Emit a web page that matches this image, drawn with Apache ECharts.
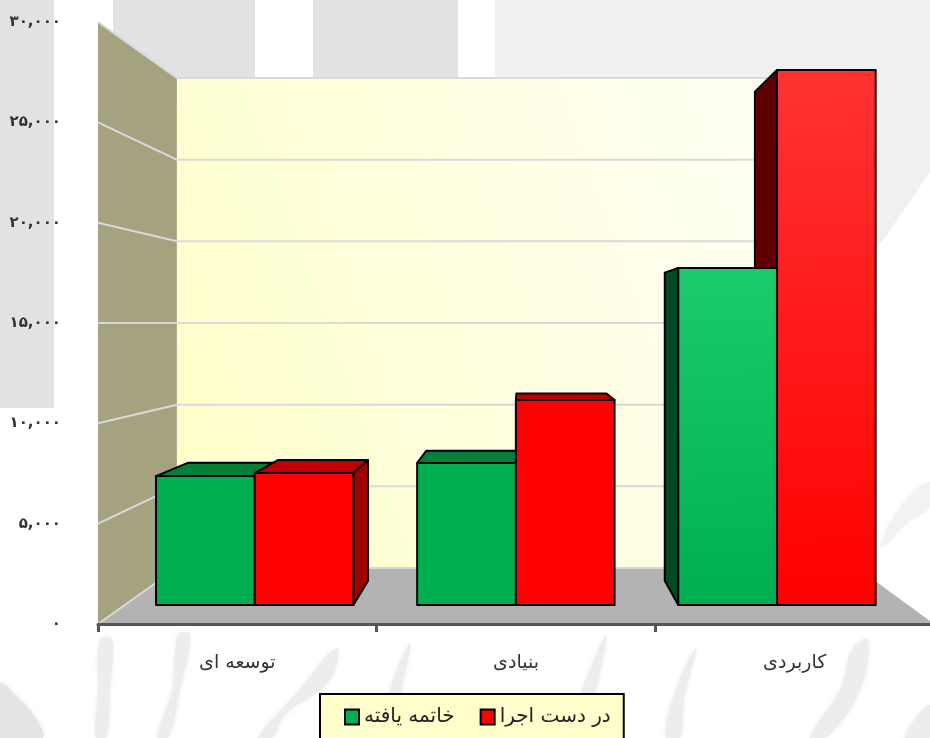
<!DOCTYPE html>
<html>
<head>
<meta charset="utf-8">
<style>
html, body { margin: 0; padding: 0; background: #fff; }
#chart { width: 930px; height: 738px; }
</style>
<script src="https://cdn.jsdelivr.net/npm/echarts@6/dist/echarts.min.js"></script>
</head>
<body>
<div id="chart"></div>
<script>
const categories = ['توسعه ای', 'بنیادی', 'کاربردی']
const finishedName = 'خاتمه یافته'
const runningName = 'در دست اجرا'
const finishedValues = [6860, 7560, 17930]
const runningValues = [7020, 10900, 28460]
const yTicks = [0, 5000, 10000, 15000, 20000, 25000, 30000]
const yTickLabels = ['۰', '۵,۰۰۰', '۱۰,۰۰۰', '۱۵,۰۰۰', '۲۰,۰۰۰', '۲۵,۰۰۰', '۳۰,۰۰۰']

const FONT = '"DejaVu Sans", sans-serif'

// fake 3d: everything is read on the front plane and pulled towards one vanishing point
const VP = [522, 323]
const S_WALL = 0.814
const S_BAR_FRONT = 0.937
const S_BAR_BACK = 0.856
const BAR_GAP = 0.12
const BAR_WIDTH = 0.378
const FADE_ABOVE = 15000

const project = (p, s) => [VP[0] + s * (p[0] - VP[0]), VP[1] + s * (p[1] - VP[1])]

const greenFaces = { front: '#00B050', frontLight: '#1CCC6A', top: '#008038', left: '#004A24', right: '#004A24' }
const redFaces = { front: '#FF0000', frontLight: '#FF3333', top: '#C00000', left: '#600000', right: '#A00000' }

function renderBar(faces, index) {
    return function (params, api) {
        let cat = api.value(0)
        let val = api.value(1)
        let band = api.size([1, 0])[0]
        let base = api.coord([cat, 0])
        let topY = api.coord([cat, val])[1]
        let L = base[0] - band / 2 + band * (BAR_GAP + BAR_WIDTH * index)
        let R = L + band * BAR_WIDTH

        let fTL = project([L, topY], S_BAR_FRONT)
        let fTR = project([R, topY], S_BAR_FRONT)
        let fBL = project([L, base[1]], S_BAR_FRONT)
        let fBR = project([R, base[1]], S_BAR_FRONT)
        let bTL = project([L, topY], S_BAR_BACK)
        let bTR = project([R, topY], S_BAR_BACK)
        let bBL = project([L, base[1]], S_BAR_BACK)
        let bBR = project([R, base[1]], S_BAR_BACK)

        // nearer to the vanishing point is drawn later so it hides the neighbour's side
        let z2 = 1000 - Math.abs((fTL[0] + fTR[0]) / 2 - VP[0])
        let edge = { stroke: '#000', lineWidth: 2, lineJoin: 'round' }
        let face = (points, fill) => ({
            type: 'polygon', z2, shape: { points }, style: Object.assign({ fill }, edge)
        })

        let children = []
        if (fTL[1] > VP[1]) children.push(face([fTL, fTR, bTR, bTL], faces.top))
        if (fTL[0] > VP[0]) children.push(face([fTL, bTL, bBL, fBL], faces.left))
        if (fTR[0] < VP[0]) children.push(face([fTR, bTR, bBR, fBR], faces.right))

        let fill = faces.front
        if (val > FADE_ABOVE) {
            fill = new echarts.graphic.LinearGradient(0, 0, 0.12, 1, [
                { offset: 0, color: faces.frontLight },
                { offset: 1, color: faces.front }
            ])
        }
        children.push(face([fTL, fTR, fBR, fBL], fill))
        return { type: 'group', children }
    }
}

function renderChamber(params, api) {
    let grid = params.coordSys
    let left = grid.x
    let right = grid.x + grid.width
    let y = api.coord([0, api.value(0)])[1]
    let floorY = grid.y + grid.height
    let line = { stroke: '#D9D9D9', lineWidth: 2 }
    let children = []

    if (params.dataIndex === 0) {
        let wTL = project([left, grid.y], S_WALL)
        let wTR = project([right, grid.y], S_WALL)
        let wBL = project([left, floorY], S_WALL)
        let wBR = project([right, floorY], S_WALL)
        children.push({
            type: 'polygon', shape: { points: [wTL, wTR, wBR, wBL] },
            style: {
                fill: new echarts.graphic.LinearGradient(0, 0.75, 1, 0.25, [
                    { offset: 0, color: '#FFFFCC' },
                    { offset: 1, color: '#FFFFF8' }
                ])
            }
        })
        children.push({
            type: 'polygon', shape: { points: [[left, grid.y], wTL, wBL, [left, floorY]] },
            style: { fill: '#A5A27F' }
        })
        children.push({
            type: 'polygon', shape: { points: [[left, floorY], [right, floorY], wBR, wBL] },
            style: { fill: '#B3B3B3' }
        })
    }
    let from = [left, y]
    let mid = project(from, S_WALL)
    let to = project([right, y], S_WALL)
    children.push({ type: 'polyline', shape: { points: [from, mid, to] }, style: Object.assign({ fill: null }, line) })
    return { type: 'group', children }
}

// watermark behind the chart, decoration only
const paper = (shape, fill) => ({ type: 'rect', z: -10, silent: true, shape, style: { fill } })
const brush = (points, fill) => ({
    type: 'polygon', z: -9, silent: true, shape: { points, smooth: 0.4 },
    style: { fill: fill || '#EDEDED', shadowBlur: 5, shadowColor: fill || '#EDEDED' }
})
const watermark = [
    paper({ x: 0, y: 0, width: 54, height: 408 }, '#E2E2E2'),
    paper({ x: 113, y: 0, width: 142, height: 100 }, '#E2E2E2'),
    paper({ x: 313, y: 0, width: 145, height: 100 }, '#E2E2E2'),
    { type: 'polygon', z: -10, silent: true, shape: { points: [[495, 0], [930, 0], [930, 172], [882, 242], [860, 260], [860, 100], [495, 100]] }, style: { fill: '#F0F0F0' } },
    brush([[930, 482], [902, 505], [880, 545], [884, 546], [908, 522], [930, 506]], '#F2F2F2'),
    brush([[0, 684], [18, 698], [38, 722], [42, 738], [0, 738]], '#E4E4E4'),
    brush([[100, 640], [112, 640], [110, 690], [106, 738], [96, 738], [98, 690]]),
    brush([[178, 635], [190, 635], [180, 690], [168, 738], [157, 738], [172, 690]]),
    brush([[336, 648], [330, 680], [285, 715], [272, 738], [258, 738], [295, 695]]),
    brush([[410, 644], [402, 690], [396, 738], [384, 738], [390, 690]]),
    brush([[606, 636], [596, 690], [590, 700], [580, 700], [590, 670]]),
    brush([[696, 648], [684, 700], [680, 738], [666, 738], [674, 695]]),
    brush([[868, 640], [860, 690], [826, 738], [810, 738], [840, 690], [852, 650]]),
    brush([[930, 705], [930, 738], [905, 738]])
]

let chart = echarts.init(document.getElementById('chart'))

chart.setOption({
    animation: false,
    textStyle: { fontFamily: FONT },
    graphic: { elements: watermark },
    grid: { left: 98, width: 836, top: 22, height: 602, outerBoundsMode: 'none' },
    legend: {
        left: 320,
        top: 694,
        padding: [13, 13, 12, 24],
        itemGap: 25,
        itemWidth: 14,
        itemHeight: 15,
        icon: 'rect',
        backgroundColor: '#FFFFCC',
        borderColor: '#000',
        borderWidth: 2,
        textStyle: { color: '#222', fontSize: 20, fontFamily: FONT },
        itemStyle: { borderColor: '#000', borderWidth: 2 },
        data: [finishedName, runningName]
    },
    xAxis: {
        type: 'category',
        data: categories,
        z: 10,
        offset: 1,
        axisLine: { show: true, lineStyle: { color: '#555', width: 3 } },
        axisTick: { show: true, alignWithLabel: false, length: 8, lineStyle: { color: '#555', width: 3 } },
        axisLabel: { color: '#333', fontSize: 19, margin: 29, fontFamily: FONT },
        splitLine: { show: false }
    },
    yAxis: {
        type: 'value',
        min: 0,
        max: 30000,
        interval: 5000,
        axisLine: { show: false },
        axisTick: { show: false },
        splitLine: { show: false },
        axisLabel: {
            color: '#333',
            fontSize: 15,
            fontWeight: 'bold',
            margin: 37,
            fontFamily: FONT,
            formatter: value => yTickLabels[yTicks.indexOf(value)]
        }
    },
    series: [
        {
            type: 'custom',
            name: 'chamber',
            z: 1,
            clip: false,
            silent: true,
            data: yTicks.map(v => [v]),
            encode: { y: 0 },
            renderItem: renderChamber
        },
        {
            type: 'custom',
            name: finishedName,
            z: 3,
            clip: false,
            itemStyle: { color: greenFaces.front },
            data: finishedValues.map((v, i) => [i, v]),
            encode: { x: 0, y: 1 },
            renderItem: renderBar(greenFaces, 0)
        },
        {
            type: 'custom',
            name: runningName,
            z: 3,
            clip: false,
            itemStyle: { color: redFaces.front },
            data: runningValues.map((v, i) => [i, v]),
            encode: { x: 0, y: 1 },
            renderItem: renderBar(redFaces, 1)
        }
    ]
})
</script>
</body>
</html>
